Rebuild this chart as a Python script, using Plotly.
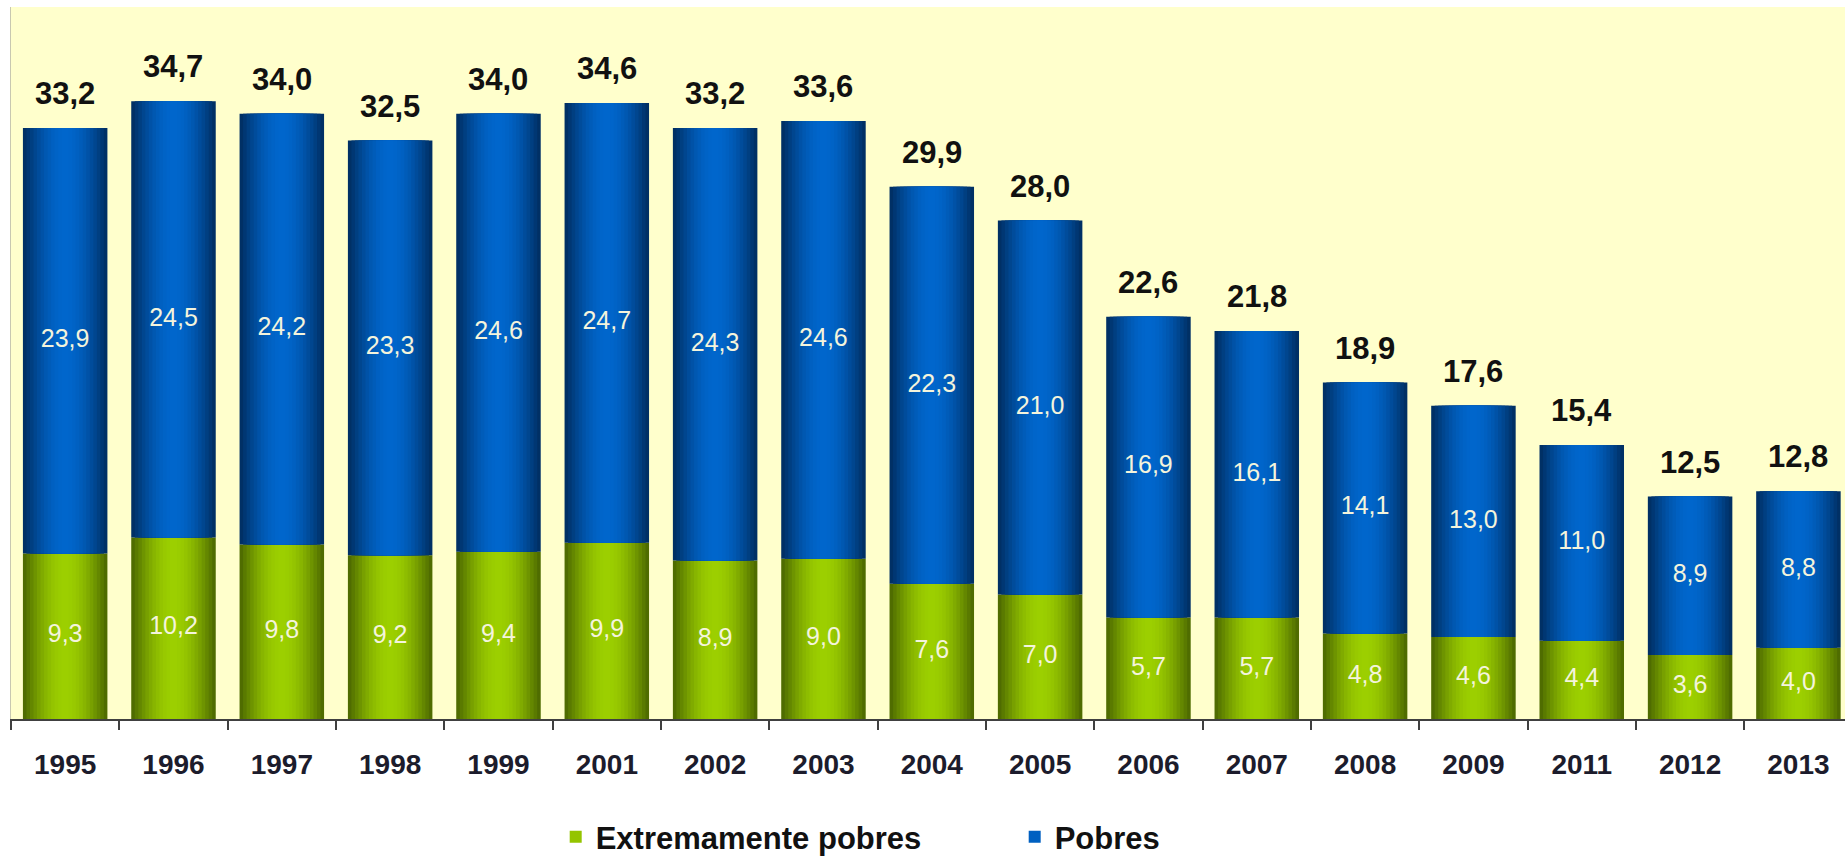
import math
import plotly.graph_objects as go

years = ["1995", "1996", "1997", "1998", "1999", "2001", "2002", "2003", "2004",
         "2005", "2006", "2007", "2008", "2009", "2011", "2012", "2013"]
extremamente_pobres = [9.3, 10.2, 9.8, 9.2, 9.4, 9.9, 8.9, 9.0, 7.6,
                       7.0, 5.7, 5.7, 4.8, 4.6, 4.4, 3.6, 4.0]
pobres = [23.9, 24.5, 24.2, 23.3, 24.6, 24.7, 24.3, 24.6, 22.3,
          21.0, 16.9, 16.1, 14.1, 13.0, 11.0, 8.9, 8.8]
totais = [33.2, 34.7, 34.0, 32.5, 34.0, 34.6, 33.2, 33.6, 29.9,
          28.0, 22.6, 21.8, 18.9, 17.6, 15.4, 12.5, 12.8]

FONT = "Liberation Sans, Arial, sans-serif"


def fmt(v):
    return f"{v:.1f}".replace(".", ",")


def hex2rgb(h):
    h = h.lstrip("#")
    return tuple(int(h[i:i + 2], 16) for i in (0, 2, 4))


def lerp(c1, c2, f):
    a, b = hex2rgb(c1), hex2rgb(c2)
    return "rgb({},{},{})".format(*[round(a[i] + (b[i] - a[i]) * f) for i in range(3)])


N = 12
W = 0.78
series = [
    ("Extremamente pobres", extremamente_pobres, [0] * len(years), "#4A6500", "#9CCF00"),
    ("Pobres", pobres, extremamente_pobres, "#002C5E", "#0066CC"),
]

fig = go.Figure()
for name, vals, base, edge, center in series:
    for k in range(N):
        t = (k + 0.5) / N
        f = math.sin(t * math.pi / 2)
        fig.add_trace(go.Bar(
            x=years, y=vals, base=base,
            width=W * (N - k) / N,
            marker=dict(color=lerp(edge, center, f), line=dict(width=0)),
            name=name, legendgroup=name,
            showlegend=(k == 8),
            hoverinfo="skip",
        ))

# segment labels
fig.add_trace(go.Scatter(
    x=years, y=[e / 2 for e in extremamente_pobres],
    mode="text", text=[fmt(v) for v in extremamente_pobres],
    textposition="middle center",
    textfont=dict(family=FONT, size=25, color="#F4F4DC"),
    showlegend=False, hoverinfo="skip",
))
fig.add_trace(go.Scatter(
    x=years, y=[e + p / 2 for e, p in zip(extremamente_pobres, pobres)],
    mode="text", text=[fmt(v) for v in pobres],
    textposition="middle center",
    textfont=dict(family=FONT, size=25, color="#F4F4DC"),
    showlegend=False, hoverinfo="skip",
))

# totals above bars (category index used as x position)
for i, tot in enumerate(totais):
    fig.add_annotation(
        x=i, y=tot, xref="x", yref="y", text=fmt(tot), showarrow=False,
        xanchor="center", yanchor="bottom", yshift=15,
        font=dict(family=FONT, size=31, color="#111111", weight="bold"),
    )

fig.update_layout(
    width=1845, height=864,
    barmode="overlay",
    paper_bgcolor="white",
    plot_bgcolor="#FFFFCC",
    margin=dict(l=11, r=0, t=7, b=145, autoexpand=False),
    showlegend=True,
    legend=dict(
        orientation="h", x=0.297, xanchor="left", y=-0.166, yanchor="middle",
        font=dict(family=FONT, size=31, color="#111111", weight="bold"),
        entrywidth=414, entrywidthmode="pixels",
        bgcolor="rgba(0,0,0,0)",
    ),
    xaxis=dict(
        type="category", range=[-0.5, 16.43],
        showline=True, linecolor="#404040", linewidth=2,
        ticks="outside", ticklen=9, tickwidth=2, tickcolor="#404040",
        tickson="boundaries", showgrid=False,
        ticklabelstandoff=19,
        tickfont=dict(family=FONT, size=28, color="#1C1C2C", weight="bold"),
    ),
    yaxis=dict(
        range=[0, 40], showline=True, linecolor="#C8C8B0", linewidth=1,
        showticklabels=False, ticks="", showgrid=False, zeroline=False,
    ),
)

fig.write_html("out.html", config={"displayModeBar": False},
               post_script="document.body.style.margin='0';")
